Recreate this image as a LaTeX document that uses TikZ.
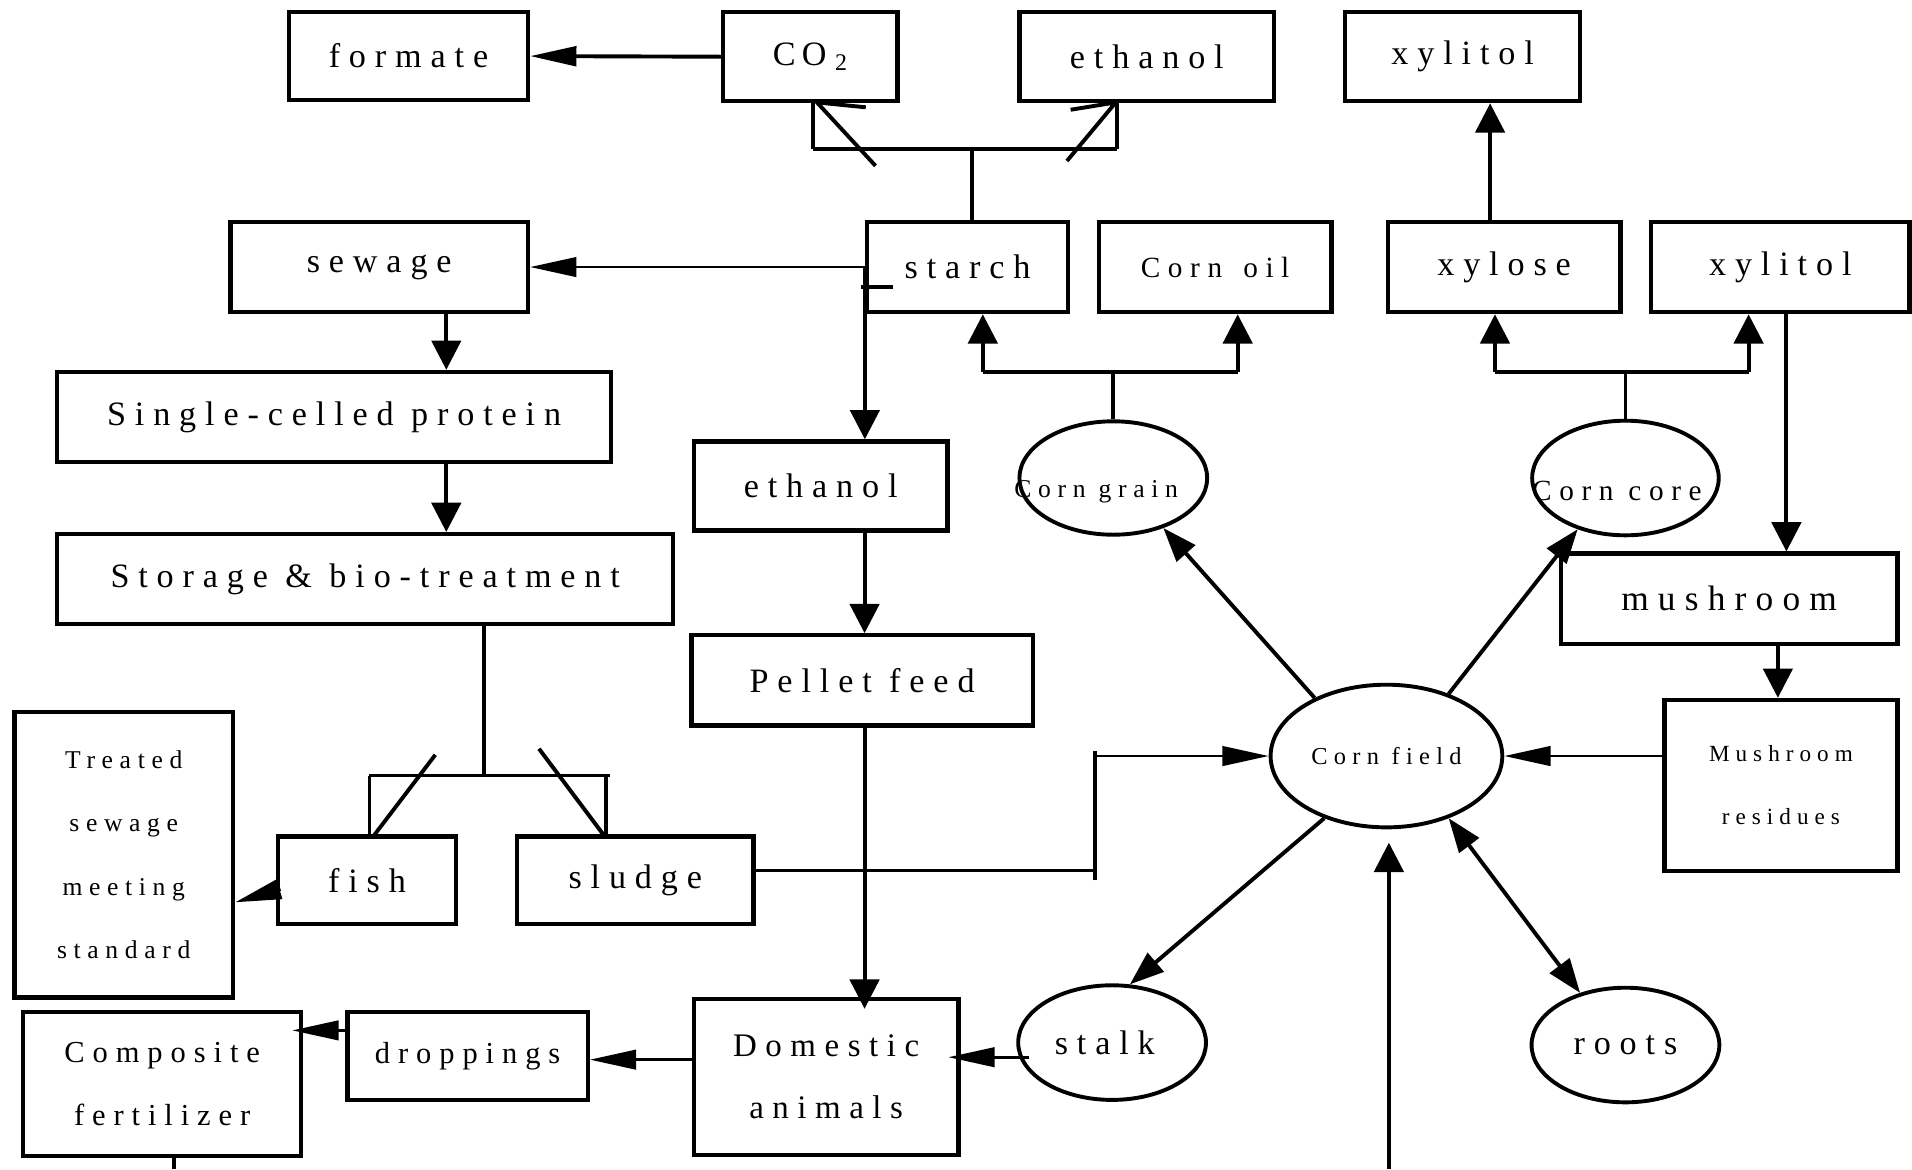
\documentclass[tikz,border=0pt]{standalone}
\usepackage{fontspec}
\setmainfont{Liberation Serif}[LetterSpace=26]
\usetikzlibrary{arrows.meta,shapes.geometric,calc}
\begin{document}
\begin{tikzpicture}[x=1pt,y=-1pt,
  box/.style={draw, line width=3.5pt, rectangle, inner sep=0pt, align=center},
  ell/.style={draw, line width=3.2pt, ellipse, inner sep=0pt},
  ln/.style={line width=3.2pt},
  tn/.style={line width=2.2pt},
  ah/.style={ln, -{Triangle[length=38pt,width=16pt]}},
  av/.style={ln, -{Triangle[length=24pt,width=24pt]}},
  ad/.style={ln, -{Triangle[length=28pt,width=20pt]}},
  fL/.style={font=\fontsize{28}{34}\selectfont},
]
\useasboundingbox (0,0) rectangle (1568,959);
\fill[white] (0,0) rectangle (1568,959);

% ---------- nodes ----------
\node[box, fL, minimum width=196pt, minimum height=72pt] (formate) at (335,46) {formate};
\node[box, fL, minimum width=143pt, minimum height=73pt] (co2) at (664.5,46.5) {C\hspace{5pt}O\hspace{7pt}\textsubscript{2}};
\node[box, fL, minimum width=209pt, minimum height=73pt] (ethtop) at (940.5,46.5) {ethanol};
\node[box, fL, minimum width=193pt, minimum height=73pt] (xyltop) at (1199.5,46.5) {xylitol};

\node[box, fL, minimum width=244pt, minimum height=74pt] (sewage) at (311,219) {sewage};
\node[box, fL, minimum width=165pt, minimum height=74pt] (starch) at (793.5,219) {starch};
\node[box, font=\fontsize{24}{30}\selectfont, minimum width=191pt, minimum height=74pt] (cornoil) at (996.5,219) {Corn\hspace{5pt} oil};
\node[box, fL, minimum width=191pt, minimum height=74pt] (xylose) at (1233.5,219) {xylose};
\node[box, fL, minimum width=212pt, minimum height=74pt] (xyl2) at (1460,219) {xylitol};

\node[box, fL, minimum width=454pt, minimum height=74pt] (scp) at (274,342) {Single-celled protein};
\node[box, fL, minimum width=505pt, minimum height=74pt] (storage) at (299.5,475) {Storage \& bio-treatment};
\node[box, fL, minimum width=208pt, minimum height=73pt] (ethmid) at (673,398.5) {ethanol};
\node[box, fL, minimum width=280pt, minimum height=74pt] (pellet) at (707,558) {Pellet feed};

\node[ell, minimum width=154pt, minimum height=93pt] (grain) at (913,392) {};
\node[font=\fontsize{21}{26}\selectfont] (grainT) at (899,403) {Corn grain};
\node[ell, minimum width=153pt, minimum height=94pt] (core) at (1333,392) {};
\node[font=\fontsize{24}{30}\selectfont] (coreT) at (1326,403) {Corn core};

\node[box, font=\fontsize{29}{34}\selectfont, minimum width=276pt, minimum height=74pt] (mushroom) at (1418,491) {mushroom};
\node[box, font=\fontsize{19}{52}\selectfont, minimum width=191pt, minimum height=140pt] (residues) at (1460.5,644) {Mushroom\\residues};
\node[ell, font=\fontsize{20}{26}\selectfont, minimum width=190pt, minimum height=117pt] (field) at (1137,620) {Corn field};

\node[box, font=\fontsize{21}{52}\selectfont, minimum width=179pt, minimum height=234pt] (treated) at (101.5,701) {Treated\\sewage\\meeting\\standard};
\node[box, fL, minimum width=146pt, minimum height=72pt] (fish) at (301,722) {fish};
\node[box, fL, minimum width=194pt, minimum height=72pt] (sludge) at (521,722) {sludge};

\node[box, font=\fontsize{25}{51}\selectfont, minimum width=228pt, minimum height=118pt] (composite) at (133,889) {Composite\\fertilizer};
\node[box, font=\fontsize{25}{30}\selectfont, minimum width=197pt, minimum height=72pt] (droppings) at (383.5,866) {droppings};
\node[box, font=\fontsize{27}{51}\selectfont, minimum width=217pt, minimum height=128pt] (domestic) at (677.5,883) {Domestic\\animals};
\node[ell, fL, minimum width=154pt, minimum height=94pt] (stalk) at (912,855) {};
\node[fL] (stalkT) at (906,855) {stalk};
\node[ell, fL, minimum width=154pt, minimum height=94pt] (roots) at (1333,857) {roots};

% ---------- connectors ----------
\draw[ah] (co2.west) -- (formate.east);

% starch -> CO2 / ethanol
\coordinate (sjL) at (667,122);
\coordinate (sjR) at (916,122);
\coordinate (sjM) at (797,122);
\draw[ln] (sjM |- starch.north) -- (sjM);
\draw[ln] (sjL) -- (sjR);
\draw[ln] (sjL) -- (sjL |- co2.south);
\draw[ln] (sjR) -- (sjR |- ethtop.south);
\coordinate (bka) at (718,136); \coordinate (bkb) at (670,84); \coordinate (bkc) at (710,88);
\draw[ln] (bka) -- (bkb) -- (bkc);
\coordinate (bkd) at (875,132); \coordinate (bke) at (915,84); \coordinate (bkf) at (878,90);
\draw[ln] (bkd) -- (bke) -- (bkf);

% starch -> sewage, starch -> ethanol
\draw[ah, tn] (starch.west) -- (sewage.east);
\coordinate (tk) at (706,235);
\draw[ln] (tk) -- ++(26,0);
\draw[av] (starch.west) -- (starch.west |- ethmid.north);

% corn grain -> starch / corn oil
\coordinate (gjL) at (806,305); \coordinate (gjR) at (1015,305);
\draw[ln] (grain.north) -- (grain.north |- gjL);
\draw[ln] (gjL) -- (gjR);
\draw[av] (gjL) -- (gjL |- starch.south);
\draw[av] (gjR) -- (gjR |- cornoil.south);

% corn core -> xylose / xylitol
\coordinate (cjL) at (1226,305); \coordinate (cjR) at (1434,305);
\draw[ln] (core.north) -- (core.north |- cjL);
\draw[ln] (cjL) -- (cjR);
\draw[av] (cjL) -- (cjL |- xylose.south);
\draw[av] (cjR) -- (cjR |- xyl2.south);

% xylose -> xylitol
\coordinate (xa) at (1222,0);
\draw[av] (xylose.north -| xa) -- (xyltop.south -| xa);

% xylitol -> mushroom -> residues -> field
\coordinate (gx1) at (1465,0);
\draw[av] (xyl2.south -| gx1) -- (mushroom.north -| gx1);
\coordinate (gx2) at (1458,0);
\draw[av] (mushroom.south -| gx2) -- (residues.north -| gx2);
\draw[ah, tn] (field.east -| residues.west) -- (field.east);

% corn field radial arrows
\draw[ad] (field.141.5) -- (grain.-45);
\draw[ad] (field.45.6) -- (core.-133);
\draw[ad] (field.225) -- (stalk.73);
\draw[ln, {Triangle[length=28pt,width=20pt]}-{Triangle[length=28pt,width=20pt]}] (field.-45) -- (roots.131.6);
\coordinate (bot) at (1139,959);
\draw[av, shorten >=11pt] (bot) -- (bot |- field.south);

% sludge -> corn field
\coordinate (sg) at (898,714);
\coordinate (sgT) at (898,616); \coordinate (sgB) at (898,722);
\draw[tn] (sg -| sludge.east) -- (sg);
\draw[ln] (sgB) -- (sgT);
\draw[ah, tn] (field.west -| sg) -- (field.west);

% ethanol -> pellet -> domestic
\coordinate (px) at (709,0);
\draw[av] (ethmid.south -| px) -- (pellet.north -| px);
\draw[av, shorten >=-10pt] (pellet.south -| px) -- (domestic.north -| px);

% stalk -> domestic -> droppings -> composite
\coordinate (sd) at (844,867);
\draw[ah, tn, shorten >=-10pt] (sd) -- (sd -| domestic.east);
\coordinate (dd) at (0,869);
\draw[ah, tn] (dd -| domestic.west) -- (dd -| droppings.east);
\coordinate (dc) at (0,845);
\draw[ah, tn, shorten >=-9pt] (dc -| droppings.west) -- (dc -| composite.east);
\coordinate (cs) at (143,959);
\draw[ln] (composite.south -| cs) -- (cs);

% sewage -> SCP -> storage
\coordinate (sx) at (366,0);
\draw[av] (sewage.south -| sx) -- (scp.north -| sx);
\draw[av] (scp.south -| sx) -- (storage.north -| sx);

% storage -> fish / sludge
\coordinate (tjM) at (397,636); \coordinate (tjL) at (303,636);
\coordinate (tjR) at (500,636); \coordinate (tjR2) at (497,636);
\draw[ln] (storage.south -| tjM) -- (tjM);
\draw[ln] (tjL) -- (tjR);
\draw[ln] (tjL) -- (fish.north -| tjL);
\draw[ln] (tjR2) -- (sludge.north -| tjR2);
\coordinate (fba) at (357,619); \coordinate (fbb) at (306,686);
\draw[ln] (fba) -- (fbb);
\coordinate (sba) at (442,614); \coordinate (sbb) at (496,686);
\draw[ln] (sba) -- (sbb);

% fish -> treated sewage
\coordinate (ft) at (230,729);
\draw[ah] (ft) -- ([yshift=-39pt]treated.east);
\end{tikzpicture}
\end{document}
